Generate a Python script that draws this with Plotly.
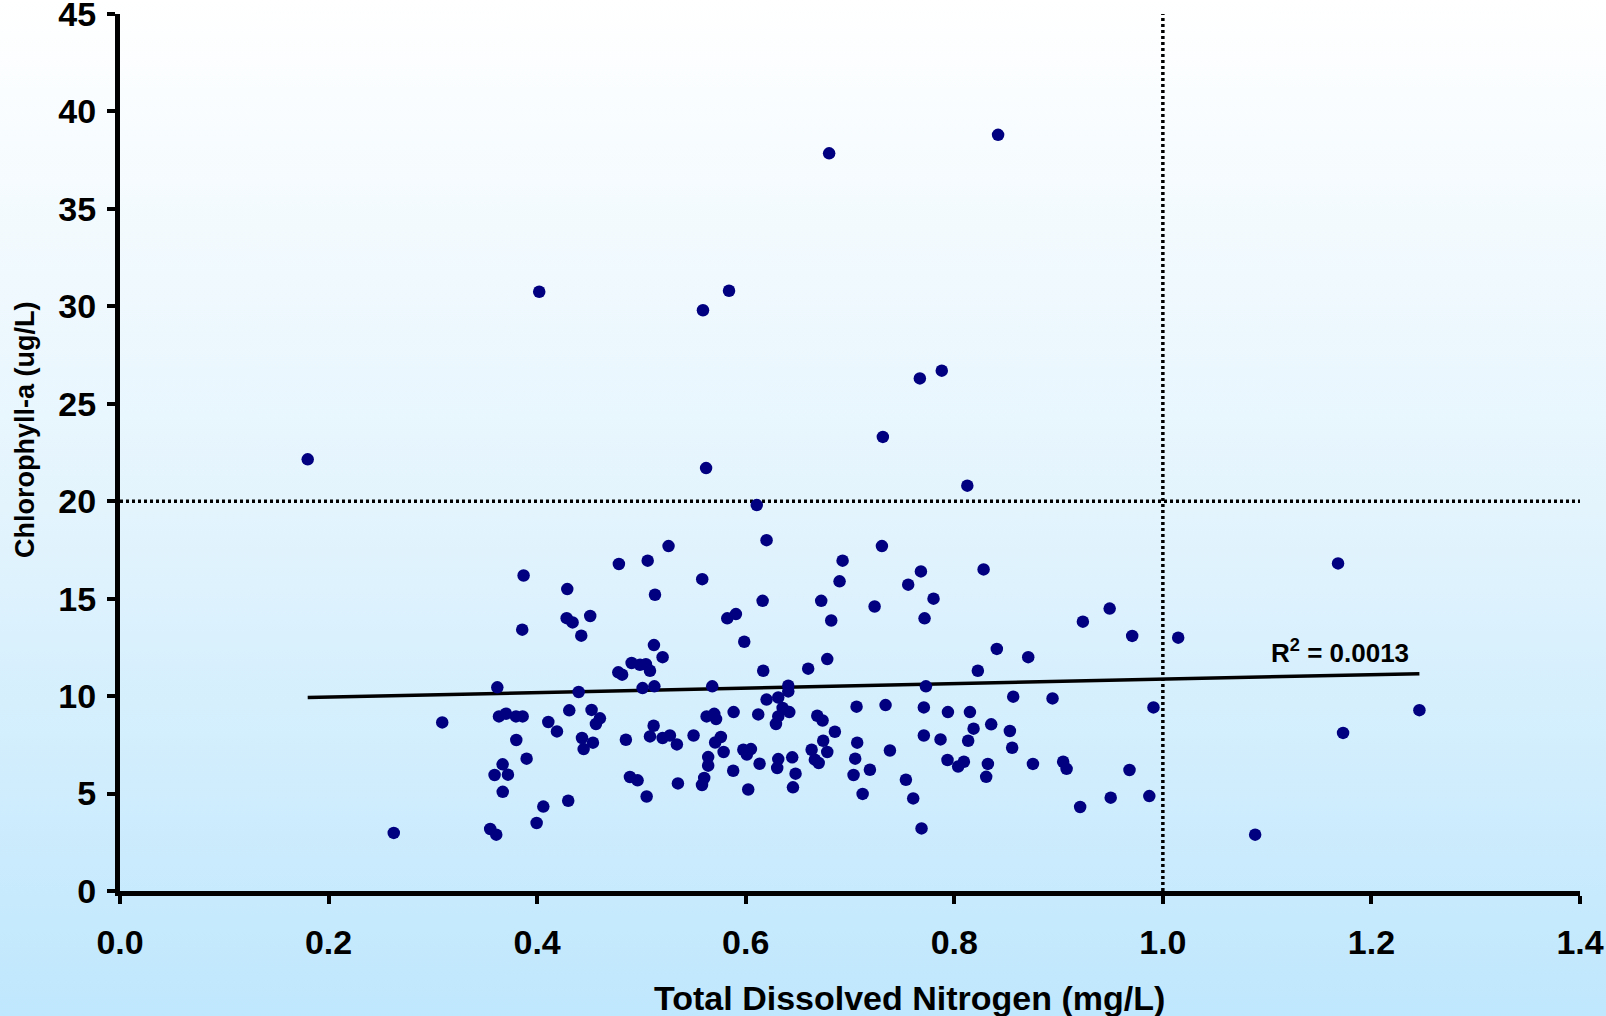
import base64
import plotly.graph_objects as go

# ---------------- data ----------------
tdn = [
    0.18, 0.2625,
    0.309, 0.3618, 0.3634, 0.3701, 0.3797, 0.3861, 0.380, 0.3899, 0.3669, 0.3592,
    0.372, 0.367, 0.355, 0.3608, 0.4059, 0.3995, 0.4298, 0.387, 0.3857, 0.4289,
    0.4283, 0.434, 0.4509, 0.4423, 0.4398, 0.4107, 0.419, 0.4308, 0.4522, 0.4602,
    0.4564, 0.443, 0.4535, 0.4446, 0.4784, 0.506, 0.513, 0.5583, 0.6162, 0.5823,
    0.5906, 0.5986, 0.512, 0.5203, 0.6168, 0.4778, 0.4815, 0.4906, 0.4986, 0.5043,
    0.5082, 0.5011, 0.5124, 0.5679, 0.620, 0.4851, 0.489, 0.4963, 0.505, 0.535,
    0.5117, 0.5082, 0.5203, 0.5273, 0.534, 0.55, 0.5625, 0.5698, 0.5716, 0.5884,
    0.612, 0.5762, 0.5707, 0.5788, 0.564, 0.564, 0.588, 0.5602, 0.5581, 0.6024,
    0.5977, 0.605, 0.6011, 0.6133,
    0.6929, 0.690, 0.768, 0.7558, 0.7801, 0.8281, 0.6724, 0.7236, 0.682, 0.7715,
    0.9233, 0.8408, 0.8709, 0.6782, 0.6599, 0.8226, 0.6408, 0.6408, 0.7728, 0.8565,
    0.8942, 0.6312, 0.6354, 0.6418, 0.6312, 0.629, 0.7063, 0.7341, 0.7708, 0.7939,
    0.815, 0.6686, 0.6737, 0.6855, 0.6743, 0.6632, 0.6782, 0.6663, 0.670, 0.6446,
    0.6312, 0.6302, 0.6478, 0.6453, 0.7069, 0.705, 0.7191, 0.7034, 0.7121, 0.7383,
    0.7536, 0.7606, 0.7686, 0.7708, 0.7868, 0.8133, 0.8185, 0.8354, 0.8533, 0.8555,
    0.7935, 0.8037, 0.8092, 0.8322, 0.8306, 0.8754, 0.9044, 0.9077, 0.9207,
    0.402, 0.584, 0.559, 0.680, 0.842, 0.788, 0.767, 0.7315, 0.562, 0.8125,
    0.6106, 0.620, 0.526, 0.7306,
    0.949, 0.9706, 0.950, 0.968, 0.987, 0.991, 1.0147, 1.168, 1.1728, 1.246, 1.0885,
]
chla = [
    22.15, 2.98,
    8.65, 10.45, 8.96, 9.10, 8.96, 8.96, 7.75, 6.79, 6.50, 5.95,
    5.97, 5.09, 3.18, 2.89, 4.33, 3.49, 4.63, 16.19, 13.41, 15.49,
    14.0, 13.78, 14.11, 13.1, 10.21, 8.67, 8.19, 9.27, 9.29, 8.86,
    8.57, 7.85, 7.61, 7.28, 16.78, 16.95, 15.2, 16.0, 14.89, 13.99,
    14.21, 12.79, 12.62, 12.0, 11.30, 11.22, 11.10, 11.70, 11.61, 11.64,
    11.30, 10.41, 10.50, 10.50, 9.82, 7.76, 5.85, 5.68, 4.85, 5.52,
    8.48, 7.93, 7.85, 7.98, 7.52, 7.98, 8.96, 9.09, 8.82, 9.18,
    9.06, 7.90, 7.62, 7.13, 6.87, 6.43, 6.17, 5.80, 5.44, 5.21,
    7.25, 7.28, 7.0, 6.53,
    16.95, 15.89, 16.40, 15.72, 15.0, 16.5, 14.89, 14.6, 13.88, 13.99,
    13.82, 12.42, 12.0, 11.90, 11.41, 11.30, 10.53, 10.24, 10.50, 9.97,
    9.88, 9.93, 9.39, 9.18, 8.96, 8.57, 9.46, 9.54, 9.42, 9.18,
    9.18, 8.99, 8.75, 8.17, 7.71, 7.25, 7.13, 6.74, 6.57, 6.86,
    6.77, 6.31, 6.02, 5.32, 7.61, 6.79, 6.22, 5.95, 4.98, 7.21,
    5.71, 4.75, 3.21, 7.98, 7.78, 7.71, 8.33, 8.55, 8.21, 7.35,
    6.72, 6.39, 6.63, 6.52, 5.86, 6.52, 6.63, 6.27, 4.31,
    30.75, 30.8, 29.8, 37.85, 38.8, 26.7, 26.3, 23.3, 21.7, 20.8,
    19.8, 18.0, 17.7, 17.7,
    14.49, 13.09, 4.79, 6.21, 4.87, 9.42, 13.0, 16.81, 8.11, 9.28, 2.89,
]

# linear trendline as shown in the reference
trend_intercept = 9.72
trend_slope = 1.15
r2_text = "R<sup>2</sup> = 0.0013"
r2_pos = (1.17, 12.3)

# reference thresholds
chl_threshold = 20
tdn_threshold = 1.0

x_range = [0, 1.4]
y_range = [0, 45]
x_ticks = [0.0, 0.2, 0.4, 0.6, 0.8, 1.0, 1.2, 1.4]
y_ticks = [0, 5, 10, 15, 20, 25, 30, 35, 40, 45]

x_title = "Total Dissolved Nitrogen (mg/L)"
y_title = "Chlorophyll-a (ug/L)"

# ---------------- figure ----------------
W, H = 1606, 1016
ML, MR, MT, MB = 120, 26, 14, 125
PW, PH = W - ML - MR, H - MT - MB

FONT = "Liberation Sans, Arial, sans-serif"

fig = go.Figure()

trend_x = [min(tdn), max(tdn)]
trend_y = [trend_intercept + trend_slope * v for v in trend_x]

fig.add_trace(go.Scatter(
    x=trend_x, y=trend_y, mode="lines",
    line=dict(color="black", width=3.5),
    hoverinfo="skip", showlegend=False,
))
fig.add_trace(go.Scatter(
    x=tdn, y=chla, mode="markers",
    marker=dict(color="#000080", size=12.5, line=dict(width=0)),
    showlegend=False,
))

# dotted threshold lines
fig.add_shape(type="line", xref="x", yref="y",
              x0=x_range[0], x1=x_range[1], y0=chl_threshold, y1=chl_threshold,
              line=dict(color="black", width=3.5, dash="3px,3px"), layer="below")
fig.add_shape(type="line", xref="x", yref="y",
              x0=tdn_threshold, x1=tdn_threshold, y0=y_range[0], y1=y_range[1],
              line=dict(color="black", width=3.5, dash="3px,3px"), layer="below")

# gradient background over the whole page
svg = ('<svg xmlns="http://www.w3.org/2000/svg" width="100" height="100" '
       'preserveAspectRatio="none"><defs><linearGradient id="g" x1="0" y1="0" x2="0" y2="1">'
       '<stop offset="0" stop-color="#FFFFFF"/><stop offset="0.5" stop-color="#E3F4FD"/>'
       '<stop offset="1" stop-color="#BFE7FD"/></linearGradient></defs>'
       '<rect width="100" height="100" fill="url(#g)"/></svg>')
src = "data:image/svg+xml;base64," + base64.b64encode(svg.encode()).decode()
fig.add_layout_image(dict(
    source=src, xref="paper", yref="paper",
    x=-ML / PW, y=1 + MT / PH, sizex=W / PW, sizey=H / PH,
    xanchor="left", yanchor="top", sizing="stretch", layer="below",
))

axis_common = dict(
    showline=True, linecolor="black", linewidth=5,
    ticks="outside", ticklen=8, tickwidth=4, tickcolor="black",
    showgrid=False, zeroline=False, automargin=False,
    ticklabeloverflow="allow",
    tickfont=dict(family=FONT, size=34, color="black", weight="bold"),
)

fig.update_xaxes(range=x_range, tickvals=x_ticks, tickformat=".1f",
                 ticklabelstandoff=9, **axis_common)
fig.update_yaxes(range=y_range, tickvals=y_ticks, ticklabelstandoff=4, **axis_common)

fig.add_annotation(text=x_title, xref="paper", yref="paper",
                   x=(909 - ML) / PW, y=-107 / PH, xanchor="center", yanchor="middle",
                   showarrow=False,
                   font=dict(family=FONT, size=34, color="black", weight="bold"))
fig.add_annotation(text=y_title, xref="paper", yref="paper",
                   x=(25 - ML) / PW, y=(891 - 430) / PH, xanchor="center", yanchor="middle",
                   textangle=-90, showarrow=False,
                   font=dict(family=FONT, size=27, color="black", weight="bold"))
fig.add_annotation(text=r2_text, xref="x", yref="y", x=r2_pos[0], y=r2_pos[1],
                   xanchor="center", yanchor="middle", showarrow=False,
                   font=dict(family=FONT, size=26, color="black", weight="bold"))

fig.update_layout(
    width=W, height=H,
    margin=dict(l=ML, r=MR, t=MT, b=MB, pad=0),
    paper_bgcolor="#E8F6FE", plot_bgcolor="rgba(0,0,0,0)",
    showlegend=False,
)

fig.write_html("out.html")
